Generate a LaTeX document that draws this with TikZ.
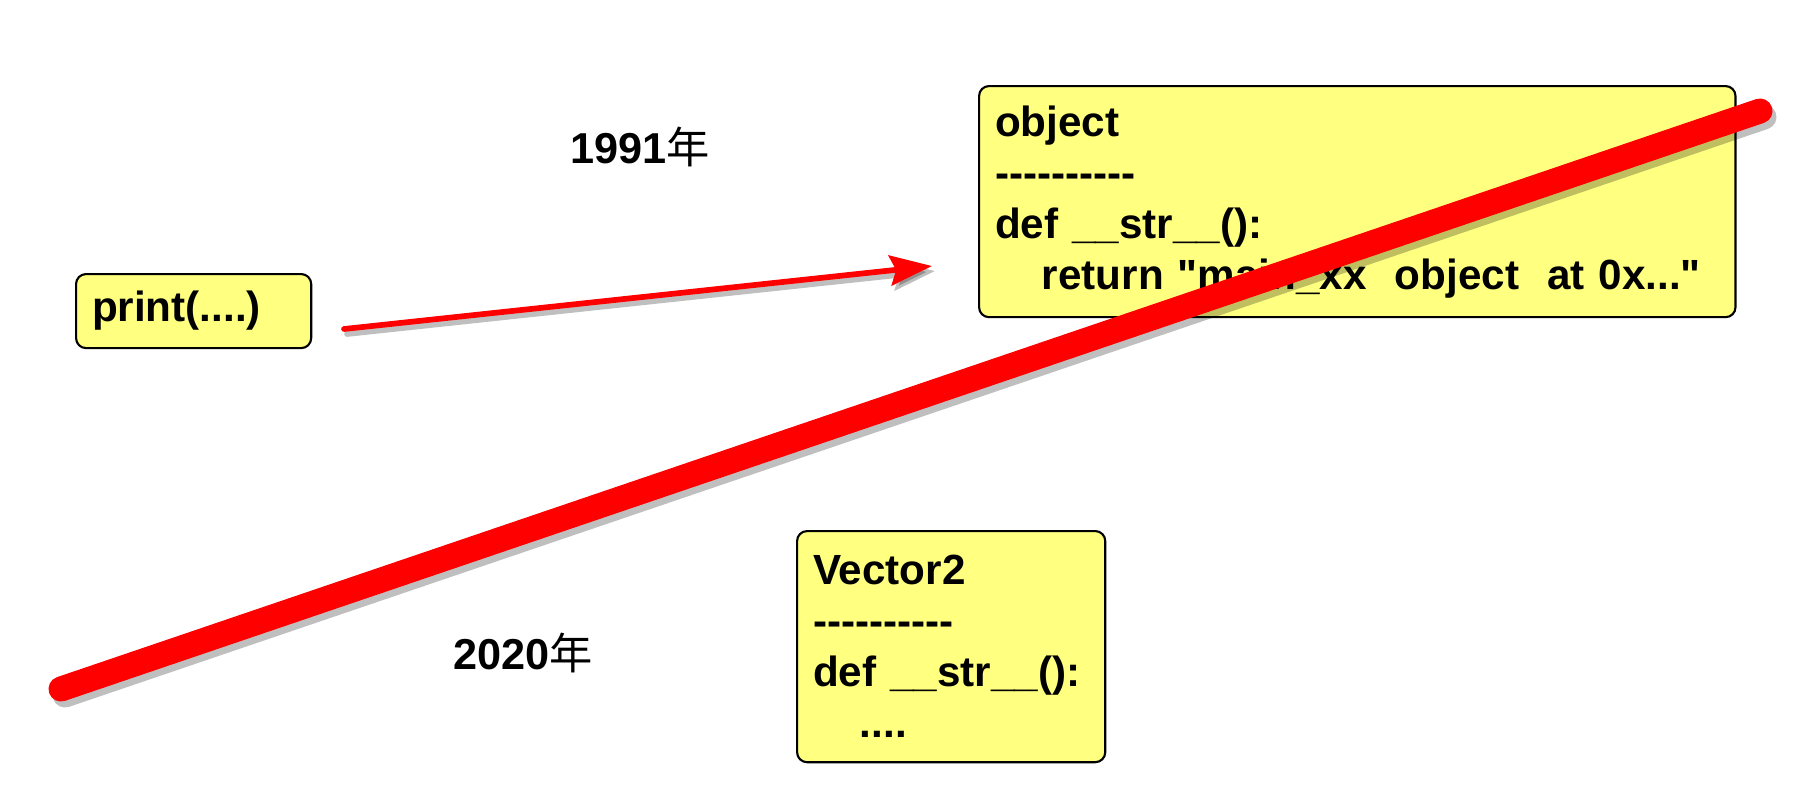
\documentclass[tikz,border=0pt]{standalone}
\usepackage{fontspec}
\setmainfont{Liberation Sans}
\newfontfamily\cjk{Noto Sans CJK SC}
\usetikzlibrary{arrows.meta}
\definecolor{boxyellow}{RGB}{255,255,128}
\definecolor{linered}{RGB}{255,0,0}
\newcommand{\dashrow}{{-}{-}{-}{-}{-}{-}{-}{-}{-}{-}}
\begin{document}
\begin{tikzpicture}[x=0.01cm,y=-0.01cm,
  codebox/.style={draw=black, line width=0.6pt, fill=boxyellow,
    rounded corners=0.1cm, anchor=north west, align=left,
    inner xsep=0.16cm, inner ysep=0pt,
    font=\fontsize{12}{14.5}\selectfont\bfseries},
  yearlabel/.style={font=\fontsize{12.3}{14.5}\selectfont\bfseries, inner sep=0pt},
  shadowline/.style={black, opacity=0.25, line cap=round},
  redline/.style={linered, line cap=round}]
\useasboundingbox (0,0) rectangle (1800,800);

\node[codebox, text width=7.24cm, minimum height=2.31cm] (obj) at (978,85)
  {object\\ \dashrow\\ def \_\_str\_\_():\\ \hspace*{1.11em}return \textquotedbl main\_xx\ \ object\ \ at 0x...\textquotedbl};
\node[codebox, text width=2.03cm, minimum height=0.74cm] (prn) at (75,273) {print(....)};
\node[codebox, text width=2.76cm, minimum height=2.31cm] (vec) at (796,530)
  {Vector2\\ \dashrow\\ def \_\_str\_\_():\\ \hspace*{1.11em}....};

\node[yearlabel] (y1991) at (640,147) {1991{\cjk\mdseries 年}};
\node[yearlabel] (y2020) at (523,653) {2020{\cjk\mdseries 年}};

\coordinate (as) at (344,329);
\coordinate (ae) at (932,266);
\coordinate (ls) at (61,689);
\coordinate (le) at (1760,111);

% thin arrow
\draw[shadowline, line width=0.057cm, -{Stealth[length=0.42cm,width=0.3cm,inset=0.06cm]}]
  ([shift={(3,5)}]as) -- ([shift={(3,5)}]ae);
\draw[redline, line width=0.057cm, -{Stealth[length=0.42cm,width=0.3cm,inset=0.06cm]}]
  (as) -- (ae);

% thick strike line
\draw[shadowline, line width=0.25cm] ([shift={(4,6)}]ls) -- ([shift={(4,6)}]le);
\draw[redline, line width=0.25cm] (ls) -- (le);
\end{tikzpicture}
\end{document}
